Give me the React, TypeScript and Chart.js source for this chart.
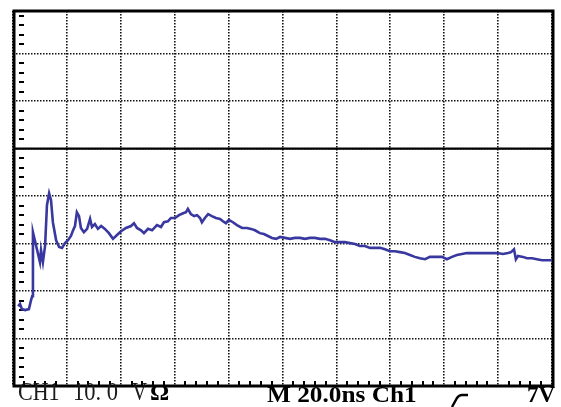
import React, { useEffect, useRef } from "react";
import { Chart, registerables } from "chart.js";

Chart.register(...registerables);

// Time axis (ns) of each sample
const timeNs: number[] = [
  1.9, 2.6, 3.3, 4.5, 5.9, 6.7, 7.1, 7.4, 10.0, 10.4, 11.1, 11.9, 12.6, 13.4, 14.1, 14.8,
  16.0, 17.1, 18.2, 19.3, 20.4, 21.5, 22.3, 23.0, 23.7, 24.5, 25.2, 26.3, 27.5, 28.6, 29.3, 30.4,
  31.5, 32.7, 34.1, 35.6, 37.1, 38.6, 40.1, 41.9, 43.8, 44.9, 46.0, 47.5, 48.6, 50.1, 51.6, 53.4,
  54.9, 56.0, 57.5, 58.6, 60.1, 61.6, 63.1, 64.2, 64.9, 66.0, 67.2, 68.3, 69.4, 70.1, 71.2, 72.4,
  73.8, 75.3, 76.8, 77.9, 79.0, 80.1, 81.6, 83.1, 85.0, 86.8, 88.3, 89.8, 91.6, 93.1, 94.6, 96.1,
  97.6, 99.1, 100.9, 102.8, 104.6, 106.5, 108.3, 110.2, 112.0, 113.9, 115.8, 117.6, 119.5, 121.3,
  123.2, 125.0, 126.9, 128.7, 130.6, 132.5, 134.3, 136.2, 138.0, 139.9, 141.7, 143.6, 145.4, 147.3,
  149.1, 151.0, 152.9, 154.7, 156.9, 159.2, 161.0, 162.9, 164.7, 166.6, 168.4, 170.7, 173.3, 175.5,
  177.0, 179.6, 181.8, 183.7, 184.8, 185.9, 186.6, 187.4, 189.2, 190.7, 192.6, 194.4, 196.3, 198.1,
  200.0, 201.8,
];

// Channel 1 voltage (V) at each sample
const volts: number[] = [
  -33.2, -32.7, -33.8, -34.0, -33.8, -31.9, -31.1, -17.6, -23.9, -21.4, -23.9, -20.5, -11.9, -9.4, -10.8, -15.5,
  -19.3, -20.7, -20.9, -19.9, -19.3, -18.4, -17.2, -16.3, -13.4, -14.2, -16.7, -17.6, -16.9, -14.8, -16.5, -15.9,
  -16.9, -16.3, -16.9, -17.8, -19.0, -18.2, -17.4, -16.7, -16.3, -15.7, -16.7, -17.2, -17.8, -16.9, -17.2, -16.1,
  -16.5, -15.5, -15.3, -14.6, -14.6, -14.0, -13.6, -13.4, -12.7, -13.8, -14.2, -14.0, -14.6, -15.5, -14.6, -13.8,
  -14.2, -14.6, -14.8, -15.3, -15.7, -15.0, -15.5, -16.1, -16.7, -16.7, -16.9, -17.2, -17.8, -18.0, -18.4, -18.8,
  -19.0, -18.6, -18.8, -19.0, -18.8, -18.8, -19.0, -18.8, -18.8, -19.0, -19.0, -19.3, -19.7, -19.7,
  -19.7, -19.9, -20.1, -20.5, -20.5, -20.9, -20.9, -20.9, -21.2, -21.6, -21.6, -21.8, -22.0, -22.4,
  -22.8, -23.1, -23.3, -22.8, -22.8, -22.8, -23.3, -22.8, -22.4, -22.2, -22.0, -22.0, -22.0, -22.0,
  -22.0, -22.0, -22.2, -22.0, -21.8, -21.2, -23.3, -22.6, -22.8, -23.1, -23.1, -23.3, -23.5, -23.5,
  -23.5, -23.3,
];

// Screen scales
const timeRange: number[] = [0, 200]; // ns, 20 ns/div
const timePerDiv = 20;
const voltRange: number[] = [-50, 29]; // V, 10 V/div (top division partly cut)
const voltsPerDiv = 10;
const groundLevel = 0;

// Status-line texts
const channelText = "CH1";
const scaleText = "10. 0";
const unitText = "V";
const ohmText = "Ω";
const timebaseText = "M 20.0ns Ch1";
const triggerText = "7V";

const scopePlugin = {
  id: "scopeFrame",
  beforeDatasetsDraw(chart: any) {
    const { ctx, chartArea: a, scales } = chart;
    const xs = scales.x;
    const ys = scales.y;
    ctx.save();
    ctx.fillStyle = "#000";
    // minor ticks along left edge (5 subdivisions per division)
    const vStep = voltsPerDiv / 5;
    for (let i = 1; voltRange[0] + i * vStep < voltRange[1]; i++) {
      if (i % 5 === 0) continue;
      const py = ys.getPixelForValue(voltRange[0] + i * vStep);
      ctx.fillRect(a.left + 6, Math.round(py) - 1, 5, 2);
    }
    // minor ticks along bottom edge
    const tStep = timePerDiv / 5;
    for (let i = 1; timeRange[0] + i * tStep < timeRange[1]; i++) {
      if (i % 5 === 0) continue;
      const px = xs.getPixelForValue(timeRange[0] + i * tStep);
      ctx.fillRect(Math.round(px) - 1, a.bottom - 5, 2, 5);
    }
    // reference (ground) line
    const gy = ys.getPixelForValue(groundLevel);
    ctx.strokeStyle = "#000";
    ctx.lineWidth = 2.3;
    ctx.beginPath();
    ctx.moveTo(a.left, gy);
    ctx.lineTo(a.right, gy);
    ctx.stroke();
    // frame
    ctx.lineWidth = 3;
    ctx.strokeRect(a.left + 1, a.top, a.width, a.height);
    ctx.restore();
  },
};

export default function App() {
  const canvasRef = useRef<HTMLCanvasElement | null>(null);

  useEffect(() => {
    const canvas = canvasRef.current;
    if (!canvas) return;
    const points = timeNs.map((t, i) => ({ x: t, y: volts[i] }));
    const chart = new Chart(canvas, {
      type: "line",
      data: {
        datasets: [
          {
            data: points,
            borderColor: "#3838a0",
            borderWidth: 2.6,
            pointRadius: 0,
            tension: 0,
            fill: false,
            clip: false as any,
          },
        ],
      },
      options: {
        responsive: false,
        maintainAspectRatio: false,
        devicePixelRatio: 1,
        animation: false,
        events: [],
        layout: { padding: { left: 13, right: 9, top: 11, bottom: 21 } },
        plugins: { legend: { display: false }, tooltip: { enabled: false }, title: { display: false } },
        scales: {
          x: {
            type: "linear",
            min: timeRange[0],
            max: timeRange[1],
            ticks: { display: false, stepSize: timePerDiv },
            grid: { color: "#111", lineWidth: 1.6, drawTicks: false },
            border: { display: false, dash: [1.5, 1.5] },
          },
          y: {
            type: "linear",
            min: voltRange[0],
            max: voltRange[1],
            ticks: { display: false, stepSize: voltsPerDiv },
            grid: { color: "#111", lineWidth: 1.6, drawTicks: false },
            border: { display: false, dash: [1.5, 1.5] },
          },
        },
      },
      plugins: [scopePlugin],
    });
    return () => chart.destroy();
  }, []);

  const serif = '"Liberation Serif", "Times New Roman", serif';
  const base: React.CSSProperties = {
    position: "absolute",
    fontFamily: serif,
    lineHeight: 1,
    whiteSpace: "pre",
    transformOrigin: "left top",
  };

  return (
    <div style={{ position: "absolute", left: 0, top: 0, width: 561, height: 407, background: "#fff", overflow: "hidden" }}>
      <canvas ref={canvasRef} width={561} height={407} style={{ display: "block", width: 561, height: 407 }} />
      <span style={{ ...base, left: 18, top: 379, fontSize: 25, color: "#1a1a1a", transform: "scaleX(0.88)" }}>{channelText}</span>
      <span style={{ ...base, left: 73, top: 379, fontSize: 25, color: "#1a1a1a", transform: "scaleX(0.9)" }}>{scaleText}</span>
      <span style={{ ...base, left: 132, top: 379, fontSize: 25, color: "#1a1a1a", transform: "scaleX(0.83)" }}>{unitText}</span>
      <span style={{ ...base, left: 150, top: 380, fontSize: 24, fontWeight: "bold", color: "#000" }}>{ohmText}</span>
      <span style={{ ...base, left: 267, top: 383, fontSize: 23, fontWeight: "bold", color: "#000", transform: "scaleX(1.1)" }}>{timebaseText}</span>
      <svg style={{ position: "absolute", left: 449, top: 393 }} width={22} height={14} viewBox="0 0 22 14">
        <path d="M3 14 L8 5 Q10 2 13 2 L19 2" fill="none" stroke="#000" strokeWidth={2.4} />
      </svg>
      <span style={{ ...base, left: 527, top: 383, fontSize: 23, fontWeight: "bold", color: "#000" }}>{triggerText}</span>
    </div>
  );
}
